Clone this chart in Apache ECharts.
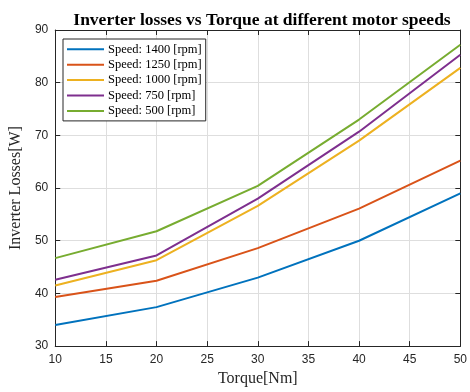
<!DOCTYPE html>
<html><head><meta charset="utf-8">
<script src="https://cdn.jsdelivr.net/npm/echarts@6/dist/echarts.min.js"></script>
<style>html,body{margin:0;padding:0;background:#fff}#c{width:470px;height:392px}</style>
</head><body><div id="c"></div>
<script>
const torque = [10, 20, 30, 40, 50];
const speeds = ['Speed: 1400 [rpm]', 'Speed: 1250 [rpm]', 'Speed: 1000 [rpm]', 'Speed: 750 [rpm]', 'Speed: 500 [rpm]'];
const s1400 = [34.0, 37.4, 43.0, 50.0, 59.0];
const s1250 = [39.3, 42.4, 48.6, 56.1, 65.2];
const s1000 = [41.5, 46.3, 56.6, 69.0, 82.8];
const s750 = [42.6, 47.2, 58.0, 70.7, 85.3];
const s500 = [46.7, 51.8, 60.4, 73.0, 87.2];
const colors = ['#0072BD', '#D95319', '#EDB120', '#7E2F8E', '#77AC30'];
const allData = [s1400, s1250, s1000, s750, s500];

const chart = echarts.init(document.getElementById('c'), null, {renderer: 'canvas'});
const axisLine = {show: true, lineStyle: {color: '#262626', width: 1}};
const gridLine = {show: true, lineStyle: {color: '#dedede', width: 1}};
chart.setOption({
  animation: false,
  backgroundColor: '#fff',
  title: {
    text: 'Inverter losses vs Torque at different motor speeds',
    left: 257, top: 6, textAlign: 'center',
    textStyle: {fontFamily: 'Liberation Serif', fontWeight: 'bold', fontSize: 17.5, color: '#000'}
  },
  legend: {
    orient: 'vertical', left: 63, top: 39,
    data: speeds,
    icon: 'path://M0,0H37V2H0Z',
    itemWidth: 37, itemHeight: 2, itemGap: 1.4,
    padding: [3.3, 4, 3, 4],
    borderColor: '#262626', borderWidth: 1, backgroundColor: '#fff',
    textStyle: {fontFamily: 'Liberation Serif', fontSize: 12.5, color: '#000', lineHeight: 14, padding: [0, 0, 0, -1]}
  },
  grid: {left: 53, right: 9, top: 30, bottom: 40},
  xAxis: [{
    type: 'value', min: 10, max: 50, interval: 5,
    name: 'Torque[Nm]', nameLocation: 'middle', nameGap: 23,
    nameTextStyle: {fontFamily: 'Liberation Serif', fontSize: 16, color: '#262626'},
    axisLine: axisLine,
    axisTick: {show: true, inside: true, length: 5, lineStyle: {color: '#262626'}},
    axisLabel: {fontFamily: 'Liberation Sans', fontSize: 12, color: '#262626', margin: 8},
    splitLine: gridLine
  }, {
    type: 'value', min: 10, max: 50, interval: 5, position: 'top',
    axisLine: axisLine,
    axisTick: {show: true, inside: true, length: 5, lineStyle: {color: '#262626'}},
    axisLabel: {show: false}, splitLine: {show: false}
  }],
  yAxis: [{
    type: 'value', min: 30, max: 90, interval: 10,
    name: 'Inverter Losses[W]', nameLocation: 'middle', nameGap: 22,
    nameTextStyle: {fontFamily: 'Liberation Serif', fontSize: 16, color: '#262626'},
    axisLine: axisLine,
    axisTick: {show: true, inside: true, length: 5, lineStyle: {color: '#262626'}},
    axisLabel: {fontFamily: 'Liberation Sans', fontSize: 12, color: '#262626', margin: 7},
    splitLine: gridLine
  }, {
    type: 'value', min: 30, max: 90, interval: 10, position: 'right',
    axisLine: axisLine,
    axisTick: {show: true, inside: true, length: 5, lineStyle: {color: '#262626'}},
    axisLabel: {show: false}, splitLine: {show: false}
  }],
  series: speeds.map((name, i) => ({
    name: name, type: 'line', symbol: 'none', color: colors[i],
    lineStyle: {width: 2, color: colors[i]},
    data: torque.map((t, j) => [t, allData[i][j]])
  }))
});
</script></body></html>
